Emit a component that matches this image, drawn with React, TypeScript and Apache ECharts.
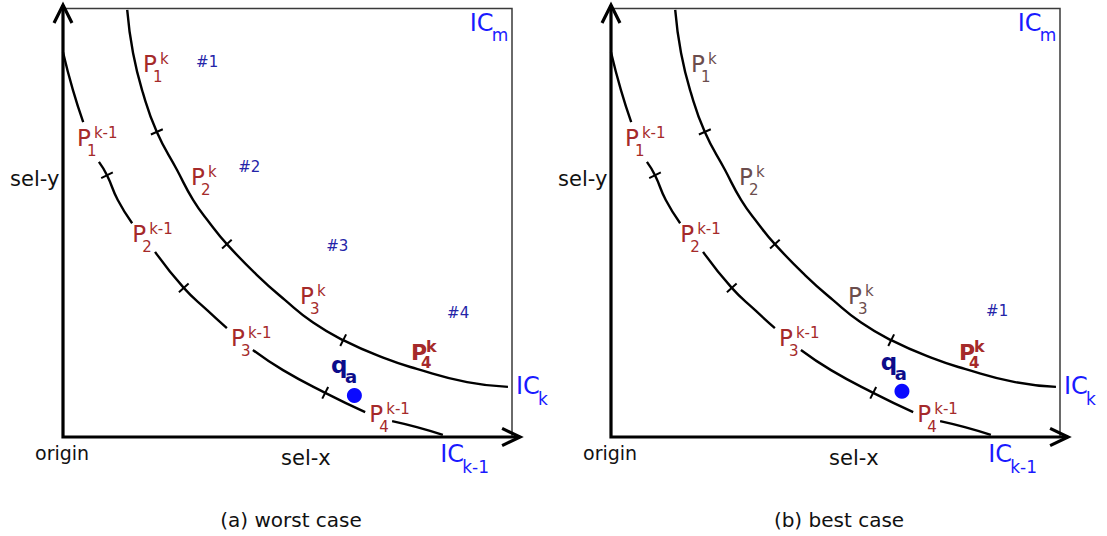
import { useEffect, useRef } from 'react';
import * as echarts from 'echarts';

const FONT = '"DejaVu Sans", sans-serif';

// Indifference curves in box units: sel-x 0..100, sel-y 0..100
const OUTER_CURVE = [
  [14.3, 99.7], [15.6, 89.6], [17.8, 80.3], [20.9, 71.2], [25.4, 62.3], [29.0, 55.3],
  [32.7, 49.9], [36.5, 45.0], [43.2, 37.8], [49.4, 32.0], [55.7, 26.7], [62.4, 22.6],
  [71.3, 18.5], [78.8, 15.9], [90.0, 12.8], [99.1, 11.7],
];

// the lower curve is broken where its point labels sit
const INNER_SEGMENTS = [
  [[0.0, 89.8], [2.2, 81.0], [4.5, 73.5]],
  [[8.0, 64.2], [9.8, 61.1], [12.2, 55.3], [15.4, 49.9]],
  [[20.5, 43.2], [26.9, 34.8], [32.1, 29.6], [36.5, 25.4]],
  [[42.3, 20.3], [49.0, 15.6], [58.4, 10.3], [67.3, 5.8]],
  [[73.3, 3.7], [78.8, 2.3], [84.6, 0.5]],
];

// cut marks between partitions along each curve
const OUTER_TICKS = [[20.9, 71.2], [36.5, 45.0], [62.4, 22.6]];
const INNER_TICKS = [[9.8, 61.1], [26.9, 34.8], [58.4, 10.3]];

// axes, arrow heads and the bounding box
const AXIS_SHAFT = [[0, 100.8], [0, 0], [101.8, 0]];
const Y_ARROW = [[-2.0, 96.6], [0, 100.8], [2.0, 96.6]];
const X_ARROW = [[97.8, 2.0], [101.8, 0], [97.8, -2.0]];
const BOX_EDGE = [[0, 100], [100, 100], [100, 0]];

type Tag = { x: number; y: number; base: string; sup?: string; sub?: string; kind: string };

const CURVE_NAMES: Tag[] = [
  { x: 90.6, y: 96.7, base: 'IC', sub: 'm', kind: 'ic' },
  { x: 100.9, y: 11.9, base: 'IC', sub: 'k', kind: 'ic' },
  { x: 84.0, y: -4.0, base: 'IC', sub: 'k-1', kind: 'ic' },
];

const PREV_POINTS: Tag[] = [
  { x: 3.1, y: 69.7, base: 'P', sup: 'k-1', sub: '1', kind: 'p' },
  { x: 15.4, y: 47.4, base: 'P', sup: 'k-1', sub: '2', kind: 'p' },
  { x: 37.4, y: 23.1, base: 'P', sup: 'k-1', sub: '3', kind: 'p' },
  { x: 68.2, y: 5.3, base: 'P', sup: 'k-1', sub: '4', kind: 'p' },
];

const CUR_POS = [[17.8, 87.0], [28.5, 60.6], [52.8, 33.0]];
const CUR_SUBS = ['1', '2', '3'];
const LAST_POINT: Tag = { x: 77.5, y: 19.7, base: 'P', sup: 'k', sub: '4', kind: 'pBold' };

const QUERY_POS = [[59.7, 16.9], [60.1, 17.6]];
const QUERY_DOT = [[64.9, 9.7], [64.8, 10.7]];

const HASHES_A = [['#1', 32.1, 87.4], ['#2', 41.5, 62.9], ['#3', 61.1, 44.6], ['#4', 88.0, 28.9]];
const HASHES_B = [['#1', 86.0, 29.4]];

const AXIS_NAMES: Tag[] = [
  { x: -0.2, y: -3.7, base: 'origin', kind: 'origin' },
  { x: 54.1, y: -5.0, base: 'sel-x', kind: 'name' },
  { x: -6.3, y: 60.2, base: 'sel-y', kind: 'name' },
];

const CAPTIONS = ['(a) worst case', '(b) best case'];

const RED = '#a52a2a';
const DIM = '#6b4d4d';
const BLUE = '#1a1aff';
const HASH = '#2424a8';
const NAVY = '#0c0c8a';
const DOT = '#0a0aff';
const INK = '#111';

const KIND: Record<string, any> = {
  p: { size: 23, color: RED, weight: 'normal', supSize: 15, supDx: 17, supDy: -5, subSize: 15, subDx: 10, subDy: 13 },
  pDim: { size: 23, color: DIM, weight: 'normal', supSize: 15, supDx: 17, supDy: -5, subSize: 15, subDx: 10, subDy: 13 },
  pBold: { size: 22, color: RED, weight: 'bold', supSize: 16, supDx: 15, supDy: -6, subSize: 15, subDx: 10, subDy: 10.5 },
  ic: { size: 24, color: BLUE, weight: 'normal', subSize: 17, subDx: 22, subDy: 12.5 },
  q: { size: 23, color: NAVY, weight: 'bold', subSize: 18, subDx: 14, subDy: 12 },
  hash: { size: 15, color: HASH, weight: 'normal', align: 'center' },
  name: { size: 21, color: INK, weight: 'normal', align: 'center' },
  origin: { size: 19, color: INK, weight: 'normal', align: 'center' },
};

const GRID_LEFT = [63, 611];

function txt(x: number, y: number, text: string, size: number, color: string, weight: string, align: string) {
  return {
    type: 'text',
    x,
    y,
    style: {
      text,
      fill: color,
      font: `${weight} ${size}px ${FONT}`,
      textAlign: align,
      textVerticalAlign: 'middle',
      align,
      verticalAlign: 'middle',
    },
  };
}

function panelTags(i: number): Tag[] {
  const curKind = i === 0 ? 'p' : 'pDim';
  const current: Tag[] = CUR_POS.map((p, j) => ({ x: p[0], y: p[1], base: 'P', sup: 'k', sub: CUR_SUBS[j], kind: curKind }));
  const hashes: Tag[] = (i === 0 ? HASHES_A : HASHES_B).map((h) => ({ x: h[1] as number, y: h[2] as number, base: h[0] as string, kind: 'hash' }));
  const query: Tag = { x: QUERY_POS[i][0], y: QUERY_POS[i][1], base: 'q', sub: 'a', kind: 'q' };
  return [...CURVE_NAMES, ...PREV_POINTS, ...current, LAST_POINT, query, ...hashes, ...AXIS_NAMES];
}

// frame pieces: [points, stroke width, colour]
const FRAME: [number[][], number, string][] = [
  [BOX_EDGE, 1.5, '#3a3a3a'],
  [AXIS_SHAFT, 3.2, '#000'],
  [Y_ARROW, 3.2, '#000'],
  [X_ARROW, 3.2, '#000'],
];

function buildSeries(i: number) {
  const axes = { xAxisIndex: i, yAxisIndex: i };
  const out: any[] = [];

  out.push({
    type: 'custom',
    ...axes,
    coordinateSystem: 'cartesian2d',
    silent: true,
    z: 3,
    data: FRAME.map((f) => f[0][0]),
    renderItem: (params: any, api: any) => {
      const [pts, width, color] = FRAME[params.dataIndex];
      return {
        type: 'polyline',
        shape: { points: pts.map((p) => api.coord(p)) },
        style: { stroke: color, lineWidth: width, fill: null, lineJoin: 'miter', lineCap: 'butt' },
      };
    },
  });

  const curve = (data: number[][]) => ({
    type: 'line',
    ...axes,
    data,
    symbol: 'none',
    silent: true,
    clip: false,
    smooth: 0.5,
    lineStyle: { width: 2.4, color: '#000' },
    z: 2,
  });
  out.push(curve(OUTER_CURVE));
  INNER_SEGMENTS.forEach((seg) => out.push(curve(seg)));

  const innerAll = INNER_SEGMENTS.flat();
  const ticks = [
    ...OUTER_TICKS.map((t) => ({ at: t, curve: OUTER_CURVE })),
    ...INNER_TICKS.map((t) => ({ at: t, curve: innerAll })),
  ];
  out.push({
    type: 'custom',
    ...axes,
    coordinateSystem: 'cartesian2d',
    silent: true,
    z: 3,
    data: ticks.map((t) => t.at),
    renderItem: (params: any, api: any) => {
      const t = ticks[params.dataIndex];
      const idx = t.curve.findIndex((p) => p[0] === t.at[0] && p[1] === t.at[1]);
      const p = api.coord([api.value(0), api.value(1)]);
      const a = api.coord(t.curve[Math.max(0, idx - 1)]);
      const b = api.coord(t.curve[Math.min(t.curve.length - 1, idx + 1)]);
      const dx = b[0] - a[0];
      const dy = b[1] - a[1];
      const len = Math.hypot(dx, dy) || 1;
      const nx = -dy / len;
      const ny = dx / len;
      const h = 6.5;
      return {
        type: 'line',
        shape: { x1: p[0] - nx * h, y1: p[1] - ny * h, x2: p[0] + nx * h, y2: p[1] + ny * h },
        style: { stroke: '#000', lineWidth: 2 },
      };
    },
  });

  out.push({
    type: 'scatter',
    ...axes,
    silent: true,
    data: [QUERY_DOT[i]],
    symbol: 'circle',
    symbolSize: 15,
    itemStyle: { color: DOT, opacity: 1 },
    z: 4,
  });

  const tags = panelTags(i);
  out.push({
    type: 'custom',
    ...axes,
    coordinateSystem: 'cartesian2d',
    silent: true,
    z: 5,
    data: tags.map((t) => [t.x, t.y]),
    renderItem: (params: any, api: any) => {
      const t = tags[params.dataIndex];
      const k = KIND[t.kind];
      const pt = api.coord([api.value(0), api.value(1)]);
      const kids: any[] = [txt(pt[0], pt[1], t.base, k.size, k.color, k.weight, k.align || 'left')];
      if (t.sup) kids.push(txt(pt[0] + k.supDx, pt[1] + k.supDy, t.sup, k.supSize, k.color, k.weight, 'left'));
      if (t.sub) kids.push(txt(pt[0] + k.subDx, pt[1] + k.subDy, t.sub, k.subSize, k.color, k.weight, 'left'));
      return { type: 'group', children: kids };
    },
  });
  return out;
}

export default function App() {
  const ref = useRef<HTMLDivElement>(null);

  useEffect(() => {
    if (!ref.current) return;
    const chart = echarts.init(ref.current, undefined, { renderer: 'svg' });
    const hidden = { show: false };
    chart.setOption({
      animation: false,
      backgroundColor: '#ffffff',
      grid: GRID_LEFT.map((left) => ({ left, top: 8.5, width: 449, height: 428.5 })),
      xAxis: GRID_LEFT.map((_, i) => ({
        type: 'value', gridIndex: i, min: 0, max: 100,
        axisLine: hidden, axisTick: hidden, axisLabel: hidden, splitLine: hidden,
      })),
      yAxis: GRID_LEFT.map((_, i) => ({
        type: 'value', gridIndex: i, min: 0, max: 100,
        axisLine: hidden, axisTick: hidden, axisLabel: hidden, splitLine: hidden,
      })),
      graphic: CAPTIONS.map((c, i) => ({
        type: 'text',
        x: GRID_LEFT[i] + 228,
        y: 520,
        style: {
          text: c,
          fill: INK,
          font: `normal 20px ${FONT}`,
          textAlign: 'center',
          textVerticalAlign: 'middle',
          align: 'center',
          verticalAlign: 'middle',
        },
      })),
      series: [...buildSeries(0), ...buildSeries(1)],
    });
    return () => chart.dispose();
  }, []);

  return <div ref={ref} style={{ position: 'fixed', left: 0, top: 0, width: 1107, height: 536 }} />;
}
